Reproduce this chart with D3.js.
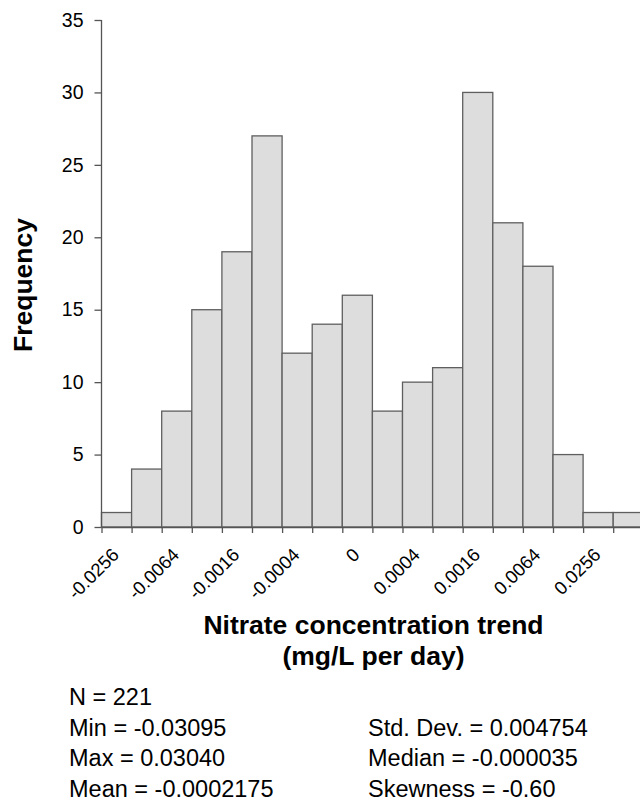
<!DOCTYPE html>
<html>
<head>
  <meta charset="UTF-8">
  <title>Nitrate concentration trend histogram</title>
  <script src="https://d3js.org/d3.v7.min.js"></script>
  <style>
    body {
      margin: 0;
      background: #fff;
      font-family: "Liberation Sans", Arial, sans-serif;
    }
    svg {
      display: block;
      background: #fff;
    }
    .bar {
      fill: #dddddd;
      stroke: #5f5f5f;
      stroke-width: 1.3;
    }
    .axis path, .axis line {
      stroke: #555;
      stroke-width: 1.3;
    }
    .axis text {
      font-family: "Liberation Sans", Arial, sans-serif;
      fill: #000;
    }
    .y.axis text { font-size: 19.5px; }
    .x.axis text { font-size: 18.5px; }
    .title {
      font-weight: bold;
      font-size: 26.5px;
    }
    .stat {
      font-size: 23.5px;
    }
  </style>
</head>
<body>

  <svg width="640" height="801"></svg>

  <script>
    // histogram counts per bin (18 bins, log-spaced classes)
    const counts = [1, 4, 8, 15, 19, 27, 12, 14, 16, 8, 10, 11, 30, 21, 18, 5, 1, 1];
    // labels sit on every other bin boundary (1, 3, 5, ... 17)
    const edgeLabels = ["-0.0256", "-0.0064", "-0.0016", "-0.0004", "0", "0.0004", "0.0016", "0.0064", "0.0256"];
    const yTicks = [0, 5, 10, 15, 20, 25, 30, 35];

    const statsLeft = ["N = 221", "Min = -0.03095", "Max = 0.03040", "Mean = -0.0002175"];
    const statsRight = ["", "Std. Dev. = 0.004754", "Median = -0.000035", "Skewness = -0.60"];

    const svg = d3.select("svg");

    const x = d3.scaleLinear()
      .domain([0, counts.length])
      .range([101.5, 643.3]);

    const y = d3.scaleLinear()
      .domain([0, 35])
      .range([527, 20]);

    // bars
    svg.selectAll(".bar")
      .data(counts)
      .enter()
      .append("rect")
      .attr("class", "bar")
      .attr("x", (d, i) => x(i))
      .attr("y", d => y(d))
      .attr("width", (d, i) => x(i + 1) - x(i))
      .attr("height", d => y(0) - y(d));

    // y axis
    svg.append("g")
      .attr("class", "y axis")
      .attr("transform", `translate(${x(0)},0)`)
      .call(d3.axisLeft(y).tickValues(yTicks).tickSize(7).tickSizeOuter(0).tickPadding(11))
      .call(g => g.select(".domain").attr("d", `M0,${y(0)}V${y(35)}`));

    // x axis: tick at each bin edge, label on odd edges
    const edges = d3.range(counts.length + 1);
    const xAxis = svg.append("g")
      .attr("class", "x axis")
      .attr("transform", `translate(0,${y(0)})`)
      .call(d3.axisBottom(x)
        .tickValues(edges)
        .tickSize(6)
        .tickSizeOuter(0)
        .tickFormat(i => i % 2 === 1 ? edgeLabels[(i - 1) / 2] : ""));

    xAxis.selectAll("text")
      .attr("x", null)
      .attr("y", null)
      .attr("dy", null)
      .attr("text-anchor", "end")
      .attr("transform", "translate(-12,29) rotate(-45)");

    // axis titles
    svg.append("text")
      .attr("class", "title")
      .attr("transform", "translate(32,285) rotate(-90)")
      .attr("text-anchor", "middle")
      .text("Frequency");

    svg.append("text")
      .attr("class", "title")
      .attr("x", 373.5)
      .attr("y", 634)
      .attr("text-anchor", "middle")
      .text("Nitrate concentration trend");

    svg.append("text")
      .attr("class", "title")
      .attr("x", 373.5)
      .attr("y", 665)
      .attr("text-anchor", "middle")
      .text("(mg/L per day)");

    // summary statistics
    svg.selectAll(".stat-left")
      .data(statsLeft)
      .enter()
      .append("text")
      .attr("class", "stat")
      .attr("x", 69)
      .attr("y", (d, i) => 705 + i * 30.7)
      .text(d => d);

    svg.selectAll(".stat-right")
      .data(statsRight)
      .enter()
      .append("text")
      .attr("class", "stat")
      .attr("x", 368)
      .attr("y", (d, i) => 705 + i * 30.7)
      .text(d => d);
  </script>

</body>
</html>
